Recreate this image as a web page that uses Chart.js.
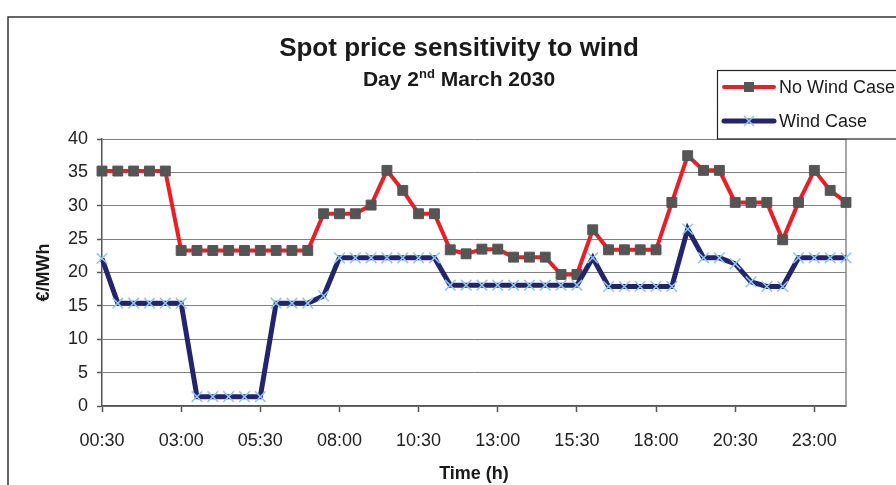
<!DOCTYPE html>
<html>
<head>
<meta charset="utf-8">
<title>Spot price sensitivity to wind</title>
<script src="https://cdn.jsdelivr.net/npm/chart.js@4.4.1/dist/chart.umd.min.js"></script>
<style>
  html, body { margin: 0; padding: 0; background: #fff; }
  #wrap { width: 896px; height: 485px; }
</style>
</head>
<body>
<div id="wrap"><canvas id="spotChart" width="896" height="485"></canvas></div>
<script>
const timeLabels = [
  "00:30", "01:00", "01:30", "02:00", "02:30", "03:00", "03:30", "04:00",
  "04:30", "05:00", "05:30", "06:00", "06:30", "07:00", "07:30", "08:00",
  "08:30", "09:00", "09:30", "10:00", "10:30", "11:00", "11:30", "12:00",
  "12:30", "13:00", "13:30", "14:00", "14:30", "15:00", "15:30", "16:00",
  "16:30", "17:00", "17:30", "18:00", "18:30", "19:00", "19:30", "20:00",
  "20:30", "21:00", "21:30", "22:00", "22:30", "23:00", "23:30", "24:00"
];

const noWindCase = [
  35.2, 35.2, 35.2, 35.2, 35.2, 23.3, 23.3, 23.3,
  23.3, 23.3, 23.3, 23.3, 23.3, 23.3, 28.8, 28.8,
  28.8, 30.1, 35.3, 32.3, 28.8, 28.8, 23.4, 22.8,
  23.5, 23.5, 22.3, 22.3, 22.3, 19.7, 19.7, 26.4,
  23.4, 23.4, 23.4, 23.4, 30.5, 37.5, 35.3, 35.3,
  30.5, 30.5, 30.5, 24.9, 30.5, 35.3, 32.3, 30.5
];

const windCase = [
  22.1, 15.4, 15.4, 15.4, 15.4, 15.4, 1.4, 1.4,
  1.4, 1.4, 1.4, 15.4, 15.4, 15.4, 16.5, 22.2,
  22.2, 22.2, 22.2, 22.2, 22.2, 22.2, 18.1, 18.1,
  18.1, 18.1, 18.1, 18.1, 18.1, 18.1, 18.1, 22.2,
  17.9, 17.9, 17.9, 17.9, 17.9, 26.5, 22.2, 22.2,
  21.3, 18.6, 17.9, 17.9, 22.2, 22.2, 22.2, 22.2
];

const seriesNames = ["No Wind Case", "Wind Case"];
const yTicks = [0, 5, 10, 15, 20, 25, 30, 35, 40];

const FONT = "'Liberation Sans', Arial, sans-serif";
const RED = "#ee1d23";
const NAVY = "#23246e";
const SQUARE = "#555555";
const CROSS = "#8fc6ee";

// frame, titles and legend drawn straight on the canvas
const decor = {
  id: "decor",
  beforeDraw(chart) {
    const ctx = chart.ctx;
    ctx.save();
    ctx.fillStyle = "#fff";
    ctx.fillRect(0, 0, chart.width, chart.height);
    ctx.strokeStyle = "#333";
    ctx.lineWidth = 1.5;
    ctx.beginPath();
    ctx.moveTo(8, chart.height);
    ctx.lineTo(8, 17);
    ctx.lineTo(chart.width, 17);
    ctx.stroke();
    ctx.restore();
  },
  beforeDatasetsDraw(chart) {
    const { ctx, chartArea } = chart;
    ctx.save();
    ctx.strokeStyle = "#888";
    ctx.lineWidth = 1.5;
    ctx.beginPath();
    ctx.moveTo(chartArea.right, chartArea.top);
    ctx.lineTo(chartArea.right, chartArea.bottom);
    ctx.stroke();
    ctx.restore();
  },
  afterDraw(chart) {
    const ctx = chart.ctx;
    ctx.save();
    ctx.fillStyle = "#1a1a1a";
    ctx.textBaseline = "alphabetic";

    // main title
    ctx.font = "bold 26px " + FONT;
    ctx.textAlign = "center";
    ctx.fillText("Spot price sensitivity to wind", 459, 56);

    // subtitle with superscript
    const big = "bold 21px " + FONT;
    const small = "bold 13px " + FONT;
    ctx.textAlign = "left";
    ctx.font = big;
    const p1 = "Day 2", p3 = " March 2030";
    const w1 = ctx.measureText(p1).width;
    const w3 = ctx.measureText(p3).width;
    ctx.font = small;
    const w2 = ctx.measureText("nd").width;
    let x = 459 - (w1 + w2 + w3) / 2;
    ctx.font = big;
    ctx.fillText(p1, x, 86);
    ctx.font = small;
    ctx.fillText("nd", x + w1, 78);
    ctx.font = big;
    ctx.fillText(p3, x + w1 + w2, 86);

    // legend box
    ctx.fillStyle = "#fff";
    ctx.fillRect(717, 70, 200, 69);
    ctx.strokeStyle = "#222";
    ctx.lineWidth = 1.2;
    ctx.strokeRect(717.5, 70.5, 200, 68.5);

    const rows = [
      { y: 87, color: RED, width: 4, name: seriesNames[0], mark: "rect" },
      { y: 121, color: NAVY, width: 5, name: seriesNames[1], mark: "cross" }
    ];
    rows.forEach(r => {
      ctx.strokeStyle = r.color;
      ctx.lineWidth = r.width;
      ctx.lineCap = "round";
      ctx.beginPath();
      ctx.moveTo(724, r.y);
      ctx.lineTo(774, r.y);
      ctx.stroke();
      if (r.mark === "rect") {
        ctx.fillStyle = SQUARE;
        ctx.fillRect(744, r.y - 5, 10, 10);
      } else {
        ctx.strokeStyle = CROSS;
        ctx.lineWidth = 1.5;
        ctx.lineCap = "butt";
        ctx.beginPath();
        ctx.moveTo(744, r.y - 5); ctx.lineTo(754, r.y + 5);
        ctx.moveTo(754, r.y - 5); ctx.lineTo(744, r.y + 5);
        ctx.stroke();
      }
      ctx.fillStyle = "#1a1a1a";
      ctx.font = "18px " + FONT;
      ctx.textBaseline = "middle";
      ctx.textAlign = "left";
      ctx.fillText(r.name, 779, r.y + 1);
    });
    ctx.restore();
  }
};

new Chart(document.getElementById("spotChart"), {
  type: "line",
  data: {
    labels: timeLabels,
    datasets: [
      {
        label: seriesNames[0],
        data: noWindCase,
        borderColor: RED,
        borderWidth: 4,
        tension: 0,
        pointStyle: "rect",
        pointRadius: 7,
        pointBackgroundColor: SQUARE,
        pointBorderColor: SQUARE,
        pointBorderWidth: 1,
        clip: false,
        order: 1
      },
      {
        label: seriesNames[1],
        data: windCase,
        borderColor: NAVY,
        borderWidth: 5,
        tension: 0,
        pointStyle: "crossRot",
        pointRadius: 7.5,
        pointBorderColor: CROSS,
        pointBorderWidth: 1.5,
        clip: false,
        order: 0
      }
    ]
  },
  options: {
    responsive: false,
    animation: false,
    devicePixelRatio: 1,
    events: [],
    layout: { padding: { left: 8, top: 139, right: 50, bottom: 0 } },
    plugins: {
      legend: { display: false },
      tooltip: { enabled: false },
      title: { display: false }
    },
    scales: {
      x: {
        offset: false,
        afterFit: s => { s.height = 79; },
        grid: { drawOnChartArea: false, drawTicks: true, tickLength: 6, tickColor: "#555", tickWidth: 1.5 },
        border: { color: "#555", width: 1.5 },
        ticks: {
          autoSkip: false,
          maxRotation: 0,
          padding: 18,
          color: "#222",
          font: { family: FONT, size: 18 },
          callback: (v, i) => (i % 5 === 0 ? timeLabels[i] : null)
        },
        title: {
          display: true,
          text: "Time (h)",
          color: "#1a1a1a",
          font: { family: FONT, size: 18, weight: "bold" },
          padding: { top: 3, bottom: 0 }
        }
      },
      y: {
        min: 0,
        max: 40,
        afterFit: s => { s.width = 94; },
        afterBuildTicks: s => { s.ticks = yTicks.map(v => ({ value: v })); },
        grid: { color: "#808080", lineWidth: 1, drawTicks: true, tickLength: 5, tickColor: "#555", tickWidth: 1.5 },
        border: { color: "#555", width: 1.5 },
        ticks: {
          padding: 9,
          color: "#222",
          font: { family: FONT, size: 18 }
        },
        title: {
          display: true,
          text: "€/MWh",
          color: "#1a1a1a",
          font: { family: FONT, size: 18, weight: "bold" },
          padding: { top: 25, bottom: 0 }
        }
      }
    }
  },
  plugins: [decor]
});
</script>
</body>
</html>
